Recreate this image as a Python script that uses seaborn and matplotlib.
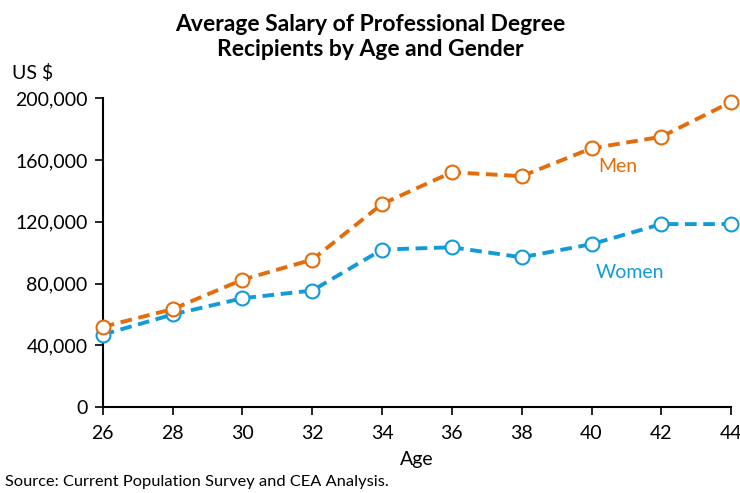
import seaborn as sns
import numpy as np
import pandas as pd
import matplotlib.pyplot as plt
import matplotlib.ticker as mtick

ages = [26, 28, 30, 32, 34, 36, 38, 40, 42, 44]
men = [52000, 63500, 82500, 95500, 131500, 152000, 149500, 167500, 175000, 197500]
women = [47000, 60000, 70500, 75500, 102000, 103500, 97000, 105500, 118500, 118500]

df = pd.DataFrame({'Age': ages * 2,
                   'Salary': men + women,
                   'Gender': ['Men'] * len(ages) + ['Women'] * len(ages)})

colors = {'Men': '#E46C0A', 'Women': '#129BD9'}

sns.set_style("white")
plt.rcParams['font.family'] = ['Lato', 'DejaVu Sans']
plt.rcParams['text.color'] = 'black'
plt.rcParams['axes.labelcolor'] = 'black'
plt.rcParams['xtick.color'] = 'black'
plt.rcParams['ytick.color'] = 'black'

fig = plt.figure(figsize=(7.4, 4.93), dpi=100)
ax = fig.add_axes([0.139, 0.174, 0.849, 0.627])

for g in ['Women', 'Men']:
    sub = df[df['Gender'] == g]
    sns.lineplot(data=sub, x='Age', y='Salary', ax=ax, color=colors[g],
                 linewidth=2.8, linestyle=(0, (3.0, 1.7)), marker='o',
                 markersize=10, markerfacecolor='white',
                 markeredgecolor=colors[g], markeredgewidth=1.5,
                 clip_on=False, zorder=3)

ax.set_xlim(26, 44)
ax.set_ylim(0, 200000)
ax.set_xticks(ages)
ax.set_yticks(np.arange(0, 200001, 40000))
ax.yaxis.set_major_formatter(mtick.StrMethodFormatter('{x:,.0f}'))
ax.tick_params(axis='both', which='major', labelsize=14, length=6,
               width=1.2, direction='out', left=True, bottom=True)
ax.tick_params(axis='x', pad=7)
ax.tick_params(axis='y', pad=5)
for s in ['top', 'right']:
    ax.spines[s].set_visible(False)
for s in ['left', 'bottom']:
    ax.spines[s].set_color('black')
    ax.spines[s].set_linewidth(1.5)

ax.set_xlabel('Age', fontsize=14, labelpad=6)
ax.set_ylabel('')

fig.text(598 / 740, 1 - 167 / 493, 'Men', fontsize=14, color=colors['Men'], va='center', ha='left')
fig.text(596 / 740, 1 - 273 / 493, 'Women', fontsize=14, color=colors['Women'], va='center', ha='left')

fig.text(0.5, 1 - 37 / 493, 'Average Salary of Professional Degree\nRecipients by Age and Gender',
         ha='center', va='center', fontsize=16.5, fontweight='bold', linespacing=1.25)
fig.text(12 / 740, 1 - 73 / 493, 'US $', fontsize=14, va='center', ha='left')
fig.text(5 / 740, 1 - 482 / 493, 'Source: Current Population Survey and CEA Analysis.',
         fontsize=11.8, va='center', ha='left')

plt.savefig('out.png', dpi=100)
